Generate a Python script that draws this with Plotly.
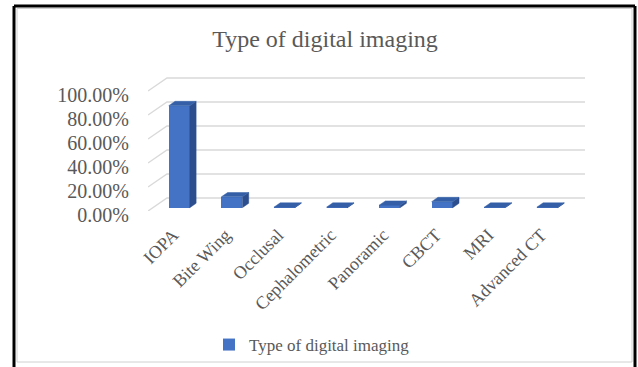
import plotly.graph_objects as go

# Share of respondents by type of digital imaging (fractions of 1)
categories = ["IOPA", "Bite Wing", "Occlusal", "Cephalometric",
              "Panoramic", "CBCT", "MRI", "Advanced CT"]
shares = [0.85, 0.09, 0.004, 0.004, 0.02, 0.05, 0.004, 0.004]
y_ticks = [0, 0.2, 0.4, 0.6, 0.8, 1.0]
series_name = "Type of digital imaging"

W, H = 638, 367
M_L, M_R, M_T, M_B = 148, 53, 70, 156
X_RANGE = [-0.475, 7.836]
Y_RANGE = [0, 1.175]

# pseudo-3D geometry (in axis units)
WALL_DX, WALL_DY = 0.361, 0.108      # back wall offset
BAR_OFF_X, BAR_OFF_Y = 0.12, 0.028   # bar front face offset from front plane
BAR_DX, BAR_DY = 0.12, 0.036         # bar depth
BAR_W = 0.4

FONT = "Liberation Serif, Times New Roman, serif"
GREY = "#595959"
FRONT, TOP, SIDE = "#4472C4", "#3560A8", "#2C4E8E"
GRID = "#D9D9D9"

fig = go.Figure()

# front faces of the columns
xs = [i + BAR_OFF_X for i in range(len(categories))]
fig.add_trace(go.Bar(x=xs, y=shares, base=BAR_OFF_Y, width=BAR_W, name=series_name,
                     marker=dict(color=FRONT, line=dict(width=0)),
                     hovertext=categories, hoverinfo="text+y"))

# top and side faces built from the same values
tx, ty, sx, sy = [], [], [], []
for x, v in zip(xs, shares):
    x0, x1 = x - BAR_W / 2, x + BAR_W / 2
    b, h = BAR_OFF_Y, BAR_OFF_Y + v
    tx += [x0, x1, x1 + BAR_DX, x0 + BAR_DX, x0, None]
    ty += [h, h, h + BAR_DY, h + BAR_DY, h, None]
    sx += [x1, x1, x1 + BAR_DX, x1 + BAR_DX, x1, None]
    sy += [b, h, h + BAR_DY, b + BAR_DY, b, None]
fig.add_trace(go.Scatter(x=sx, y=sy, mode="lines", fill="toself", fillcolor=SIDE,
                         line=dict(width=0.5, color=SIDE), hoverinfo="skip", showlegend=False))
fig.add_trace(go.Scatter(x=tx, y=ty, mode="lines", fill="toself", fillcolor=TOP,
                         line=dict(width=0.5, color=TOP), hoverinfo="skip", showlegend=False))

pw = W - M_L - M_R
ph = H - M_T - M_B


def px_x(p):
    return (p - M_L) / pw


def px_y(p):
    return (H - M_B - p) / ph


shapes = []
# back wall gridlines with slanted connectors to the value axis (behind the columns)
for t in y_ticks:
    shapes.append(dict(type="path", xref="x", yref="y", layer="below",
                       path=f"M{X_RANGE[0]},{t} L{X_RANGE[0] + WALL_DX},{t + WALL_DY} "
                            f"L{X_RANGE[1]},{t + WALL_DY}",
                       line=dict(color=GRID, width=1.4)))

# chart area border
shapes.append(dict(type="rect", xref="paper", yref="paper", x0=px_x(17), x1=px_x(632),
                   y0=px_y(362), y1=px_y(8.5), line=dict(color="#D0D0D0", width=1)))
# outer frame: left, top, right edges
for (a, b, c, d) in [(14, 6, 14, 367), (14, 6, 635, 6), (635, 6, 635, 367)]:
    shapes.append(dict(type="line", xref="paper", yref="paper",
                       x0=px_x(a), y0=px_y(b), x1=px_x(c), y1=px_y(d),
                       line=dict(color="black", width=3)))

fig.update_layout(
    width=W, height=H,
    margin=dict(l=M_L, r=M_R, t=M_T, b=M_B, autoexpand=False),
    paper_bgcolor="white", plot_bgcolor="rgba(0,0,0,0)",
    font=dict(family=FONT, color=GREY),
    title=dict(text=series_name, x=325 / W, xanchor="center",
               y=1 - 39 / H, yanchor="middle",
               font=dict(size=24, family=FONT, color=GREY)),
    xaxis=dict(range=X_RANGE, tickvals=list(range(len(categories))), ticktext=categories,
               tickangle=-45, showgrid=False, zeroline=False, showline=False, automargin=False,
               ticklabelstandoff=9, tickfont=dict(size=18, family=FONT, color=GREY)),
    yaxis=dict(range=Y_RANGE, tickvals=y_ticks, tickformat=".2%", automargin=False,
               showgrid=False, zeroline=False, showline=False,
               ticklabelstandoff=18, ticklabelshift=4,
               tickfont=dict(size=20, family=FONT, color=GREY)),
    showlegend=True,
    legend=dict(orientation="h", x=px_x(312), xanchor="center", y=px_y(345), yanchor="middle",
                font=dict(size=17, family=FONT, color=GREY), bgcolor="rgba(0,0,0,0)"),
    shapes=shapes,
    bargap=0,
)

fig.write_html("out.html")
